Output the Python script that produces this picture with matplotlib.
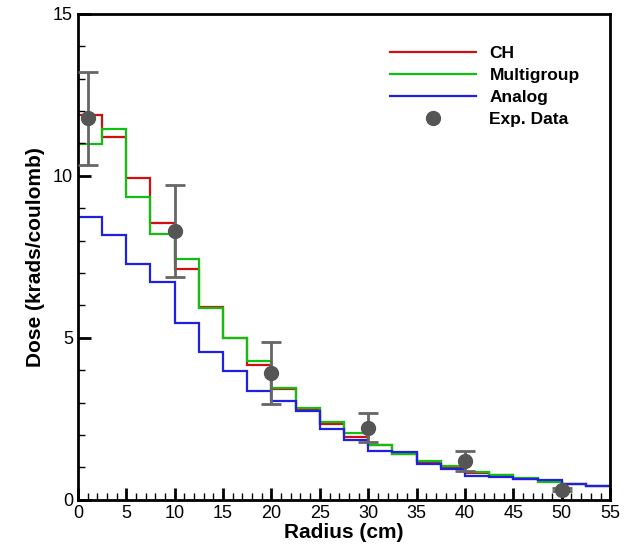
import numpy as np
import matplotlib.pyplot as plt
from matplotlib.ticker import MultipleLocator
from matplotlib.lines import Line2D

plt.rcParams['font.family'] = ['Liberation Sans', 'DejaVu Sans']

# radial bins, 2.5 cm wide
edges = np.arange(0, 55.1, 2.5)

ch = [11.86, 11.21, 9.93, 8.55, 7.13, 5.96, 4.98, 4.15, 3.41, 2.80, 2.35,
      1.95, 1.68, 1.41, 1.18, 1.00, 0.83, 0.75, 0.65, 0.57, 0.49, 0.42]
multigroup = [10.99, 11.44, 9.34, 8.21, 7.44, 5.92, 4.98, 4.29, 3.45, 2.83, 2.39,
              2.06, 1.70, 1.41, 1.20, 1.03, 0.85, 0.76, 0.66, 0.56, 0.49, 0.42]
analog = [8.72, 8.18, 7.27, 6.72, 5.47, 4.56, 3.98, 3.36, 3.06, 2.73, 2.19,
          1.84, 1.49, 1.47, 1.10, 0.95, 0.74, 0.70, 0.64, 0.62, 0.49, 0.41]

exp_r = [1, 10, 20, 30, 40, 50]
exp_dose = [11.77, 8.29, 3.91, 2.23, 1.20, 0.31]
exp_err = [1.43, 1.43, 0.95, 0.45, 0.31, 0.05]

fig = plt.figure(figsize=(6.33, 5.48), dpi=100)
ax = fig.add_axes([0.123, 0.088, 0.841, 0.887])

ax.stairs(ch, edges, baseline=None, color="#d01010", lw=1.6)
ax.stairs(multigroup, edges, baseline=None, color="#10c010", lw=1.6)
ax.stairs(analog, edges, baseline=None, color="#2020e0", lw=1.6)
ax.errorbar(exp_r, exp_dose, yerr=exp_err, fmt="o", color="#555555", ms=10,
            ecolor="#666666", elinewidth=2, capsize=7, capthick=2, zorder=5)

ax.set_xlim(0, 55)
ax.set_ylim(0, 15)
ax.xaxis.set_major_locator(MultipleLocator(5))
ax.xaxis.set_minor_locator(MultipleLocator(1))
ax.yaxis.set_major_locator(MultipleLocator(5))
ax.yaxis.set_minor_locator(MultipleLocator(1))
ax.tick_params(which="both", direction="in", labelsize=13)
ax.tick_params(which="major", length=9, width=2)
ax.tick_params(which="minor", length=5, width=1)
for s in ax.spines.values():
    s.set_linewidth(2)

ax.set_xlabel("Radius (cm)", fontsize=15, fontweight="bold", labelpad=1)
ax.set_ylabel("Dose (krads/coulomb)", fontsize=15, fontweight="bold", labelpad=6)

handles = [Line2D([], [], color="#d01010", lw=1.6),
           Line2D([], [], color="#10c010", lw=1.6),
           Line2D([], [], color="#2020e0", lw=1.6),
           Line2D([], [], color="#555555", marker="o", ms=10, ls="none")]
labels = ["CH", "Multigroup", "Analog", "Exp. Data"]
ax.legend(handles, labels, loc="upper right", bbox_to_anchor=(0.972, 0.966),
          frameon=False, handlelength=5.0, handletextpad=0.75,
          labelspacing=0.4, prop={"weight": "bold", "size": 12.5})

plt.savefig("out.png", dpi=100)
